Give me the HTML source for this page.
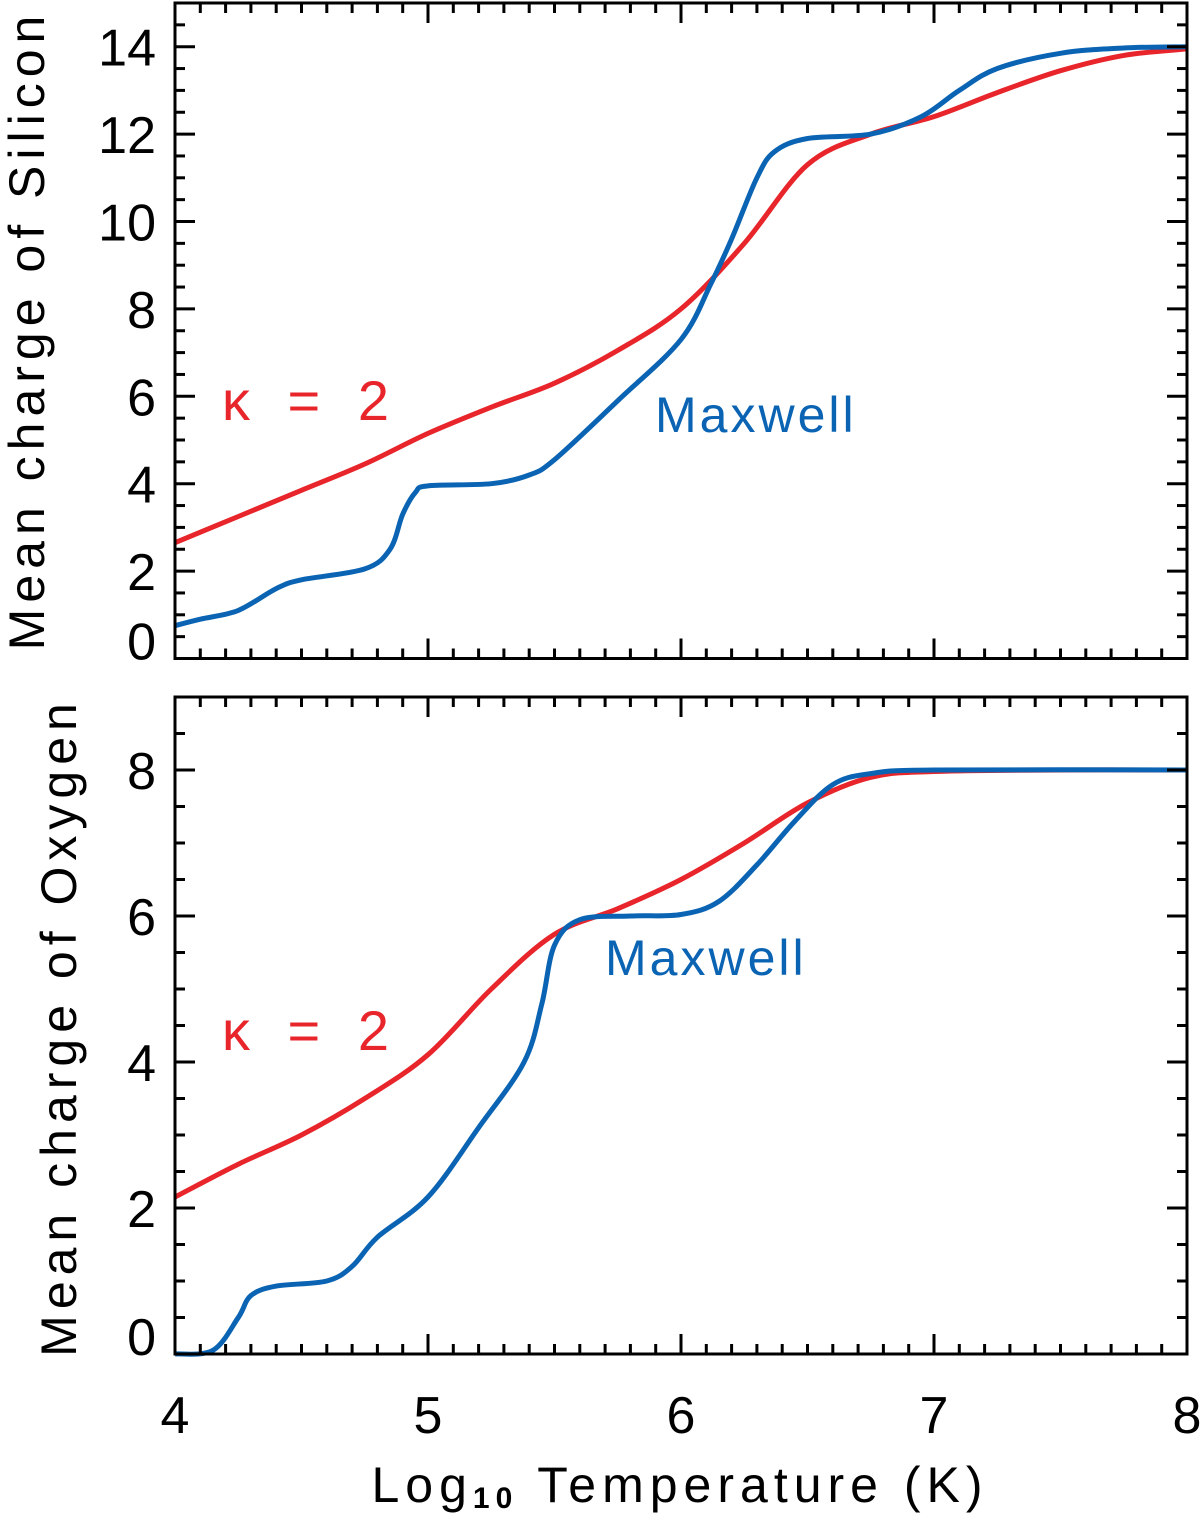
<!DOCTYPE html>
<html><head><meta charset="utf-8"><style>
html,body{margin:0;padding:0;background:#fff;}
svg{display:block;font-family:"Liberation Sans",sans-serif;}
</style></head><body>
<svg id="chart" width="1200" height="1516" viewBox="0 0 1200 1516">
<g id="top"></g>
<g id="bot"></g>
<text x="680" y="1502" font-size="50" text-anchor="middle" letter-spacing="6">Log<tspan font-size="30" font-weight="bold" dy="6">10</tspan><tspan dy="-6"> Temperature (K)</tspan></text>
<text transform="translate(44,330) rotate(-90)" font-size="50" text-anchor="middle" letter-spacing="6">Mean charge of Silicon</text>
<text transform="translate(76,1027) rotate(-90)" font-size="50" text-anchor="middle" letter-spacing="6">Mean charge of Oxygen</text>
</svg>
<script>
const siKappaX=[4.0,4.25,4.5,4.75,5.0,5.25,5.5,5.75,6.0,6.25,6.5,6.75,7.0,7.25,7.5,7.75,8.0];
const siKappaY=[2.65,3.25,3.85,4.45,5.15,5.75,6.3,7.05,8.0,9.5,11.3,12.0,12.4,12.95,13.45,13.8,13.95];
const siMaxX=[4.0,4.1,4.25,4.4,4.5,4.75,4.85,4.9,4.95,5.0,5.25,5.4,5.5,5.75,6.0,6.12,6.2,6.3,6.37,6.5,6.75,6.95,7.1,7.25,7.5,7.75,8.0];
const siMaxY=[0.75,0.9,1.1,1.6,1.8,2.05,2.5,3.3,3.8,3.95,4.0,4.2,4.55,5.9,7.3,8.6,9.6,11.0,11.6,11.9,12.0,12.4,13.0,13.5,13.85,13.97,14.0];
const oKappaX=[4.0,4.25,4.5,4.75,5.0,5.25,5.5,5.75,6.0,6.25,6.5,6.75,7.0,7.5,8.0];
const oKappaY=[2.15,2.6,3.0,3.5,4.1,5.0,5.75,6.1,6.5,7.0,7.55,7.9,7.98,8.0,8.0];
const oMaxX=[4.0,4.15,4.25,4.3,4.4,4.6,4.7,4.8,5.0,5.2,5.38,5.45,5.5,5.6,5.8,6.0,6.15,6.3,6.45,6.6,6.75,7.0,8.0];
const oMaxY=[0.0,0.05,0.5,0.8,0.93,1.0,1.2,1.6,2.15,3.1,4.0,4.8,5.6,5.95,6.0,6.02,6.2,6.7,7.3,7.8,7.95,8.0,8.0];
const xTicks=[4,5,6,7,8];
const siTicks=[0,2,4,6,8,10,12,14];
const oTicks=[0,2,4,6,8];

const NS="http://www.w3.org/2000/svg";
const X0=175,X1=1187;
function sx(v){return X0+(v-4)/4*(X1-X0);}
function mk(tag,attrs,parent){const e=document.createElementNS(NS,tag);for(const k in attrs)e.setAttribute(k,attrs[k]);parent.appendChild(e);return e;}
function smooth(pts){
  let d="M"+pts[0][0].toFixed(1)+","+pts[0][1].toFixed(1);
  for(let i=0;i<pts.length-1;i++){
    const p0=pts[Math.max(0,i-1)],p1=pts[i],p2=pts[i+1],p3=pts[Math.min(pts.length-1,i+2)];
    const c1=[p1[0]+(p2[0]-p0[0])/6,p1[1]+(p2[1]-p0[1])/6];
    const c2=[p2[0]-(p3[0]-p1[0])/6,p2[1]-(p3[1]-p1[1])/6];
    d+="C"+c1[0].toFixed(1)+","+c1[1].toFixed(1)+" "+c2[0].toFixed(1)+","+c2[1].toFixed(1)+" "+p2[0].toFixed(1)+","+p2[1].toFixed(1);
  }
  return d;
}
function panel(g,top,bot,ymax,yTicks,series,showX,labels){
  const sy=v=>bot-v/ymax*(bot-top);
  for(const s of series){
    const pts=s.x.map((x,i)=>[sx(x),sy(s.y[i])]);
    const p=mk("path",{d:smooth(pts),fill:"none",stroke:s.c,"stroke-width":5,"stroke-linejoin":"round"},g);
    
    
  }
  const fr=mk("rect",{x:X0,y:top,width:X1-X0,height:bot-top,fill:"none",stroke:"#000","stroke-width":3},g);
  
  
  for(let i=0;i<=40;i++){
    const x=sx(4+i*0.1),L=(i%10==0)?20:10;
    mk("line",{x1:x,x2:x,y1:bot,y2:bot-L,stroke:"#000","stroke-width":3},g);
    mk("line",{x1:x,x2:x,y1:top,y2:top+L,stroke:"#000","stroke-width":3},g);
  }
  for(let v=0;v<=ymax+1e-9;v+=0.5){
    const y=sy(v),L=(Math.abs(v-Math.round(v/2)*2)<1e-9)?20:10;
    mk("line",{x1:X0,x2:X0+L,y1:y,y2:y,stroke:"#000","stroke-width":3},g);
    mk("line",{x1:X1,x2:X1-L,y1:y,y2:y,stroke:"#000","stroke-width":3},g);
  }
  for(const v of yTicks){
    const t=mk("text",{x:156,y:sy(v)+19-(v===0?18:0),"font-size":52,"text-anchor":"end"},g);
    t.textContent=v;
    
    
  }
  if(showX){
    for(const v of xTicks){
      const t=mk("text",{x:sx(v),y:1433,"font-size":52,"text-anchor":"middle"},g);
      t.textContent=v;
      
      
    }
  }
  for(const l of labels){
    const t=mk("text",{x:l.x,y:l.y,"font-size":l.fs,fill:l.c,"letter-spacing":l.ls},g);
    t.textContent=l.t;
    
    
  }
}
panel(document.getElementById('top'),3,658.5,15,siTicks,[
 {x:siKappaX,y:siKappaY,c:"#e8252b",name:"silicon-kappa2-line"},
 {x:siMaxX,y:siMaxY,c:"#0b64b3",name:"silicon-maxwell-line"}],false,[
 {x:222,y:420,t:"κ = 2",c:"#e8252b",fs:56,ls:11,name:"silicon-kappa-label"},
 {x:655,y:432,t:"Maxwell",c:"#0b64b3",fs:50,ls:3,name:"silicon-maxwell-label"}]);
panel(document.getElementById('bot'),697,1354,9,oTicks,[
 {x:oKappaX,y:oKappaY,c:"#e8252b",name:"oxygen-kappa2-line"},
 {x:oMaxX,y:oMaxY,c:"#0b64b3",name:"oxygen-maxwell-line"}],true,[
 {x:222,y:1050,t:"κ = 2",c:"#e8252b",fs:56,ls:11,name:"oxygen-kappa-label"},
 {x:605,y:975,t:"Maxwell",c:"#0b64b3",fs:50,ls:3,name:"oxygen-maxwell-label"}]);
</script>
</body></html>
